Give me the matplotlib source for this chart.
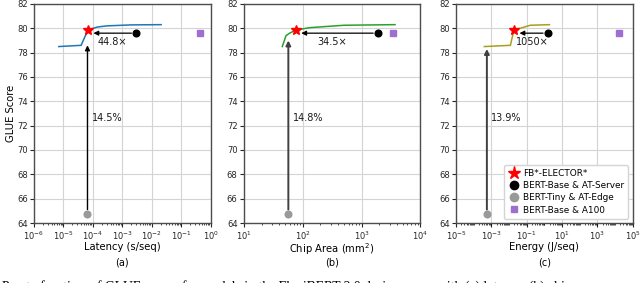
import numpy as np
import matplotlib
matplotlib.use('Agg')
import matplotlib.pyplot as plt
from matplotlib.ticker import LogLocator, NullFormatter

# Pareto frontier curves
latX = [7e-6, 4e-5, 6.8e-5, 1.4e-4, 3e-4, 2e-3, 2.1e-2]
latY = [78.5, 78.6, 79.85, 80.1, 80.2, 80.28, 80.3]
areaX = [45, 52, 60, 76, 130, 500, 3700]
areaY = [78.5, 79.4, 79.6, 79.85, 80.05, 80.25, 80.3]
energyX = [4e-4, 0.012, 0.019, 0.16, 1.95]
energyY = [78.5, 78.6, 79.85, 80.25, 80.3]

# single model points: (latency, area, energy) and GLUE score
starX = [6.8e-5, 76, 0.019]
starY = 79.85
serverX = [3e-3, 1900, 1.6]
serverY = 79.6
edgeX = [6.6e-5, 57, 5.6e-4]
edgeY = 64.7
a100X = [0.45, 3400, 1.6e4]
a100Y = 79.6

speedups = ['44.8×', '34.5×', '1050×']
gains = ['14.5%', '14.8%', '13.9%']
arrowTops = [78.6, 79.0, 78.3]
speedTextX = [1.4e-4, 180, 0.026]
gainTextX = [9.5e-5, 67, 1e-3]

xlabels = ['Latency (s/seq)', 'Chip Area (mm$^2$)', 'Energy (J/seq)']
panels = ['(a)', '(b)', '(c)']
xlims = [(1e-6, 1e0), (1e1, 1e4), (1e-5, 1e5)]
lineColors = ['#1f77b4', '#2ca02c', '#a89f1c']
curves = [(latX, latY), (areaX, areaY), (energyX, energyY)]

fig = plt.figure(figsize=(6.4, 2.83), dpi=100)
lefts = [0.053, 0.381, 0.7125]

for i in range(3):
    ax = fig.add_axes([lefts[i], 0.212, 0.276, 0.774])
    ax.set_xscale('log')
    ax.set_xlim(*xlims[i])
    ax.set_ylim(64, 82)
    ax.set_yticks(np.arange(64, 83, 2))
    if i == 2:
        ax.set_xticks([10.0**k for k in range(-5, 6, 2)])
        ax.xaxis.set_minor_locator(LogLocator(base=10, subs=np.arange(1, 10), numticks=60))
        ax.xaxis.set_minor_formatter(NullFormatter())
    ax.grid(True, which='major', color='#d4d4d4', lw=0.8)
    ax.set_axisbelow(True)
    for s in ax.spines.values():
        s.set_color('0.3')
        s.set_linewidth(1.0)
    ax.tick_params(labelsize=6, length=3, width=0.8, pad=1.5, colors='0.15')
    ax.tick_params(which='minor', length=1.5, width=0.5)

    ax.plot(curves[i][0], curves[i][1], color=lineColors[i], lw=1.1, zorder=3)
    ax.plot(starX[i], starY, marker='*', color='red', ms=7.5, ls='none', zorder=5, label='FB*-ELECTOR*')
    ax.plot(serverX[i], serverY, marker='o', color='black', ms=4.8, ls='none', zorder=5, label='BERT-Base & AT-Server')
    ax.plot(edgeX[i], edgeY, marker='o', color='#999999', ms=4.8, ls='none', zorder=5, label='BERT-Tiny & AT-Edge')
    ax.plot(a100X[i], a100Y, marker='s', color='#9e6fd0', ms=4, ls='none', zorder=5, label='BERT-Base & A100')

    # speedup arrow and performance gain arrow
    ax.annotate('', xy=(starX[i], serverY), xytext=(serverX[i], serverY),
                arrowprops=dict(arrowstyle='-|>', color='black', lw=0.9, mutation_scale=7,
                                shrinkA=3.5, shrinkB=4), zorder=4)
    ax.annotate('', xy=(edgeX[i], arrowTops[i]), xytext=(edgeX[i], edgeY),
                arrowprops=dict(arrowstyle='-|>', color='0.25' if i else 'black', lw=1.0 if i == 0 else 1.4,
                                mutation_scale=7, shrinkA=3.5, shrinkB=0), zorder=4)
    ax.text(speedTextX[i], 78.85, speedups[i], fontsize=7, ha='left', va='center', color='0.1')
    ax.text(gainTextX[i], 72.6, gains[i], fontsize=7, ha='left', va='center', color='0.1')

    ax.set_xlabel(xlabels[i], fontsize=7.2, labelpad=0)
    fig.text(lefts[i] + 0.138, 0.072, panels[i], fontsize=7, ha='center', va='center')
    if i == 0:
        ax.set_ylabel('GLUE Score', fontsize=7.2, labelpad=1)
    if i == 2:
        ax.legend(loc='lower right', fontsize=6.4, handletextpad=0.3, borderpad=0.45,
                  labelspacing=0.35, handlelength=1.4, markerscale=1.25, framealpha=1,
                  edgecolor='#d4d4d4', bbox_to_anchor=(1.0, 0.0))

fig.text(0.003, -8.0 / 283, 'Pareto frontiers of GLUE scores for models in the FlexiBERT 2.0 design space with (a) latency, (b) chip area',
         fontsize=9.8, family='Liberation Serif', ha='left', va='baseline')

plt.savefig('out.png', dpi=100)
